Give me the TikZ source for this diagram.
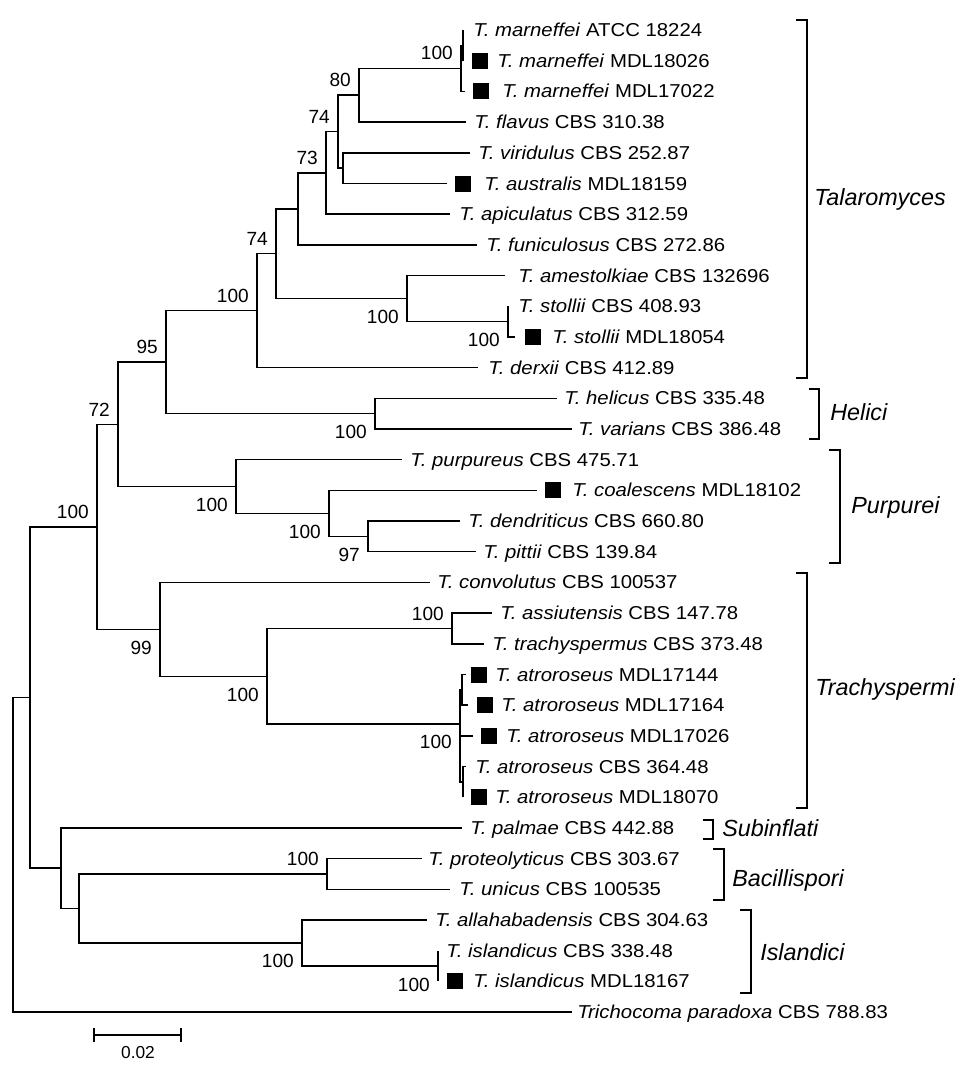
\documentclass[tikz,border=0pt]{standalone}
\usepackage{fontspec}
\setmainfont{Liberation Sans}
\newfontfamily\leaffamily[FakeStretch=1.09]{Liberation Sans}
\usepackage{tikz}
\usetikzlibrary{positioning}
\newcommand{\taxon}[2]{\textit{#1} #2}
\tikzset{
  branch/.style={line width=1.1pt},
  leaf/.style={anchor=base west, inner sep=0pt, yshift=-4.9pt,
    font=\leaffamily\fontsize{14}{17}\selectfont},
  isolate/.style={fill=black, minimum size=12pt, inner sep=0pt},
  boot/.style={inner sep=0pt, font=\fontsize{14.3}{16}\selectfont},
  clade/.style={anchor=base west, inner sep=0pt, yshift=-6.3pt,
    font=\fontsize{17.5}{20}\selectfont\itshape},
}
\begin{document}
\begin{tikzpicture}[x=0.75pt, y=-0.75pt] % Tree

      \useasboundingbox (0,0) rectangle (975,1074);

      % tips of the branches
      \coordinate (t1) at (463,30.0);    \coordinate (t2) at (463,60.7);
      \coordinate (t3) at (465,91.4);    \coordinate (t4) at (466,122.1);
      \coordinate (t5) at (470,152.8);   \coordinate (t6) at (447,183.5);
      \coordinate (t7) at (450,214.1);   \coordinate (t8) at (477,244.8);
      \coordinate (t9) at (505,275.5);   \coordinate (t10) at (508,306.2);
      \coordinate (t11) at (515,336.9);  \coordinate (t12) at (478,367.6);
      \coordinate (t13) at (557,398.3);  \coordinate (t14) at (572,429.0);
      \coordinate (t15) at (402,459.7);  \coordinate (t16) at (537,490.4);
      \coordinate (t17) at (460,521.0);  \coordinate (t18) at (476,551.7);
      \coordinate (t19) at (430,582.4);  \coordinate (t20) at (492,613.1);
      \coordinate (t21) at (484,643.8);  \coordinate (t22) at (466,674.5);
      \coordinate (t23) at (468,705.2);  \coordinate (t24) at (473,735.9);
      \coordinate (t25) at (466,766.6);  \coordinate (t26) at (463,797.3);
      \coordinate (t27) at (462,827.9);  \coordinate (t28) at (422,858.6);
      \coordinate (t29) at (450,889.3);  \coordinate (t30) at (427,920.0);
      \coordinate (t31) at (438,950.7);  \coordinate (t32) at (438,981.4);
      \coordinate (t33) at (572,1012.1);

      % inner nodes
      \coordinate (nM) at (463,45.4);    \coordinate (nL) at (461,68.4);
      \coordinate (nK) at (359,95.2);    \coordinate (nJ) at (343,168.2);
      \coordinate (nI) at (338,131.7);   \coordinate (nH) at (326,172.9);
      \coordinate (nG) at (298,208.9);   \coordinate (nO) at (508,321.6);
      \coordinate (nN) at (407,298.5);   \coordinate (nF) at (276,253.7);
      \coordinate (nE) at (257,310.6);   \coordinate (nP) at (375,413.6);
      \coordinate (nD) at (166,362.1);   \coordinate (nS) at (368,536.4);
      \coordinate (nR) at (329,513.4);   \coordinate (nQ) at (236,486.5);
      \coordinate (nC) at (118,424.3);   \coordinate (nV) at (452,628.5);
      \coordinate (nWa) at (462,689.9);  \coordinate (nWb) at (463,782.0);
      \coordinate (nW) at (460,724.0);   \coordinate (nU) at (267,676.3);
      \coordinate (nT) at (160,629.3);   \coordinate (nB) at (97,526.8);
      \coordinate (nZ) at (327,874.0);   \coordinate (nAB) at (438,966.1);
      \coordinate (nAA) at (302,943.0);  \coordinate (nY) at (79,908.5);
      \coordinate (nX) at (61,868.2);    \coordinate (nA) at (30,697.5);
      \coordinate (root) at (13,854.8);

      \draw [branch] (nM) |- (t1);  \draw [branch] (nM) |- (t2);
      \draw [branch] (nL) |- (nM);  \draw [branch] (nL) |- (t3);
      \draw [branch] (nK) |- (nL);  \draw [branch] (nK) |- (t4);
      \draw [branch] (nJ) |- (t5);  \draw [branch] (nJ) |- (t6);
      \draw [branch] (nI) |- (nK);  \draw [branch] (nI) |- (nJ);
      \draw [branch] (nH) |- (nI);  \draw [branch] (nH) |- (t7);
      \draw [branch] (nG) |- (nH);  \draw [branch] (nG) |- (t8);
      \draw [branch] (nO) |- (t10); \draw [branch] (nO) |- (t11);
      \draw [branch] (nN) |- (t9);  \draw [branch] (nN) |- (nO);
      \draw [branch] (nF) |- (nG);  \draw [branch] (nF) |- (nN);
      \draw [branch] (nE) |- (nF);  \draw [branch] (nE) |- (t12);
      \draw [branch] (nP) |- (t13); \draw [branch] (nP) |- (t14);
      \draw [branch] (nD) |- (nE);  \draw [branch] (nD) |- (nP);
      \draw [branch] (nS) |- (t17); \draw [branch] (nS) |- (t18);
      \draw [branch] (nR) |- (t16); \draw [branch] (nR) |- (nS);
      \draw [branch] (nQ) |- (t15); \draw [branch] (nQ) |- (nR);
      \draw [branch] (nC) |- (nD);  \draw [branch] (nC) |- (nQ);
      \draw [branch] (nV) |- (t20); \draw [branch] (nV) |- (t21);
      \draw [branch] (nWa) |- (t22); \draw [branch] (nWa) |- (t23);
      \draw [branch] (nWb) |- (t25); \draw [branch] (nWb) |- (t26);
      \draw [branch] (nW) |- (nWa); \draw [branch] (nW) |- (t24);
      \draw [branch] (nW) |- (nWb);
      \draw [branch] (nU) |- (nV);  \draw [branch] (nU) |- (nW);
      \draw [branch] (nT) |- (t19); \draw [branch] (nT) |- (nU);
      \draw [branch] (nB) |- (nC);  \draw [branch] (nB) |- (nT);
      \draw [branch] (nZ) |- (t28); \draw [branch] (nZ) |- (t29);
      \draw [branch] (nAB) |- (t31); \draw [branch] (nAB) |- (t32);
      \draw [branch] (nAA) |- (t30); \draw [branch] (nAA) |- (nAB);
      \draw [branch] (nY) |- (nZ);  \draw [branch] (nY) |- (nAA);
      \draw [branch] (nX) |- (t27); \draw [branch] (nX) |- (nY);
      \draw [branch] (nA) |- (nB);  \draw [branch] (nA) |- (nX);
      \draw [branch] (root) |- (nA); \draw [branch] (root) |- (t33);

      % strains
      \node [leaf] (l1) at (473,30.0) {\taxon{T. marneffei}{ATCC 18224}};
      \node [leaf] (l2) at (497,60.7) {\taxon{T. marneffei}{MDL18026}};
      \node [leaf] (l3) at (502,91.4) {\taxon{T. marneffei}{MDL17022}};
      \node [leaf] (l4) at (474,122.1) {\taxon{T. flavus}{CBS 310.38}};
      \node [leaf] (l5) at (478,152.8) {\taxon{T. viridulus}{CBS 252.87}};
      \node [leaf] (l6) at (484,183.5) {\taxon{T. australis}{MDL18159}};
      \node [leaf] (l7) at (459,214.1) {\taxon{T. apiculatus}{CBS 312.59}};
      \node [leaf] (l8) at (486,244.8) {\taxon{T. funiculosus}{CBS 272.86}};
      \node [leaf] (l9) at (518,275.5) {\taxon{T. amestolkiae}{CBS 132696}};
      \node [leaf] (l10) at (518,306.2) {\taxon{T. stollii}{CBS 408.93}};
      \node [leaf] (l11) at (552,336.9) {\taxon{T. stollii}{MDL18054}};
      \node [leaf] (l12) at (488,367.6) {\taxon{T. derxii}{CBS 412.89}};
      \node [leaf] (l13) at (564,398.3) {\taxon{T. helicus}{CBS 335.48}};
      \node [leaf] (l14) at (578,429.0) {\taxon{T. varians}{CBS 386.48}};
      \node [leaf] (l15) at (410,459.7) {\taxon{T. purpureus}{CBS 475.71}};
      \node [leaf] (l16) at (572,490.4) {\taxon{T. coalescens}{MDL18102}};
      \node [leaf] (l17) at (468,521.0) {\taxon{T. dendriticus}{CBS 660.80}};
      \node [leaf] (l18) at (483,551.7) {\taxon{T. pittii}{CBS 139.84}};
      \node [leaf] (l19) at (437,582.4) {\taxon{T. convolutus}{CBS 100537}};
      \node [leaf] (l20) at (500,613.1) {\taxon{T. assiutensis}{CBS 147.78}};
      \node [leaf] (l21) at (492,643.8) {\taxon{T. trachyspermus}{CBS 373.48}};
      \node [leaf] (l22) at (495,674.5) {\taxon{T. atroroseus}{MDL17144}};
      \node [leaf] (l23) at (501,705.2) {\taxon{T. atroroseus}{MDL17164}};
      \node [leaf] (l24) at (506,735.9) {\taxon{T. atroroseus}{MDL17026}};
      \node [leaf] (l25) at (475,766.6) {\taxon{T. atroroseus}{CBS 364.48}};
      \node [leaf] (l26) at (495,797.3) {\taxon{T. atroroseus}{MDL18070}};
      \node [leaf] (l27) at (470,827.9) {\taxon{T. palmae}{CBS 442.88}};
      \node [leaf] (l28) at (428,858.6) {\taxon{T. proteolyticus}{CBS 303.67}};
      \node [leaf] (l29) at (459,889.3) {\taxon{T. unicus}{CBS 100535}};
      \node [leaf] (l30) at (435,920.0) {\taxon{T. allahabadensis}{CBS 304.63}};
      \node [leaf] (l31) at (446,950.7) {\taxon{T. islandicus}{CBS 338.48}};
      \node [leaf] (l32) at (473,981.4) {\taxon{T. islandicus}{MDL18167}};
      \node [leaf] (l33) at (577,1012.1) {\taxon{Trichocoma paradoxa}{CBS 788.83}};

      % clinical isolates
      \node [isolate] (s2) at (480,60.7) {};
      \node [isolate] (s3) at (481,91.4) {};
      \node [isolate] (s6) at (463,183.5) {};
      \node [isolate] (s11) at (533,336.9) {};
      \node [isolate] (s16) at (553,490.4) {};
      \node [isolate] (s22) at (479,674.5) {};
      \node [isolate] (s23) at (485,705.2) {};
      \node [isolate] (s24) at (489,735.9) {};
      \node [isolate] (s26) at (479,797.3) {};
      \node [isolate] (s32) at (455,981.4) {};

      % bootstrap values
      \node [boot, above left=6pt and 6pt of nL] (bL) {100};
      \node [boot, above left=6pt and 6pt of nK] (bK) {80};
      \node [boot, above left=6pt and 6pt of nI] (bI) {74};
      \node [boot, above left=6pt and 6pt of nH] (bH) {73};
      \node [boot, above left=6pt and 6pt of nF] (bF) {74};
      \node [boot, above left=6pt and 6pt of nE] (bE) {100};
      \node [boot, above left=6pt and 6pt of nD] (bD) {95};
      \node [boot, above left=6pt and 6pt of nC] (bC) {72};
      \node [boot, above left=6pt and 6pt of nB] (bB) {100};
      \node [boot, above left=6pt and 6pt of nV] (bV) {100};
      \node [boot, above left=6pt and 6pt of nZ] (bZ) {100};
      \node [boot, below left=8.5pt and 6pt of nN] (bN) {100};
      \node [boot, below left=8.5pt and 6pt of nO] (bO) {100};
      \node [boot, below left=8.5pt and 6pt of nP] (bP) {100};
      \node [boot, below left=8.5pt and 6pt of nQ] (bQ) {100};
      \node [boot, below left=8.5pt and 6pt of nR] (bR) {100};
      \node [boot, below left=8.5pt and 6pt of nS] (bS) {97};
      \node [boot, below left=8.5pt and 6pt of nT] (bT) {99};
      \node [boot, below left=8.5pt and 6pt of nU] (bU) {100};
      \node [boot, below left=8.5pt and 6pt of nW] (bW) {100};
      \node [boot, below left=8.5pt and 6pt of nAA] (bAA) {100};
      \node [boot, below left=8.5pt and 6pt of nAB] (bAB) {100};

      % sections
      \draw [branch] (796,20) -| (807,378) -- (796,378);
      \node [clade] (talaro) at (814,197) {Talaromyces};
      \draw [branch] (809,389) -| (819,439) -- (809,439);
      \node [clade] (helici) at (830,412) {Helici};
      \draw [branch] (829,450) -| (840,563) -- (829,563);
      \node [clade] (purpu) at (851,505) {Purpurei};
      \draw [branch] (796,573) -| (807,808) -- (796,808);
      \node [clade] (trachy) at (815,687) {Trachyspermi};
      \draw [branch] (703,820) -| (713,839) -- (703,839);
      \node [clade] (subinf) at (722,828) {Subinflati};
      \draw [branch] (713,849) -| (724,900) -- (713,900);
      \node [clade] (bacil) at (732,878) {Bacillispori};
      \draw [branch] (740,910) -| (751,993) -- (740,993);
      \node [clade] (island) at (760,952) {Islandici};

      % scale
      \draw [branch] (94,1035) -- (181,1035);
      \draw [branch] (94,1028) -- (94,1042);
      \draw [branch] (181,1028) -- (181,1042);
      \node [font=\fontsize{13}{15}\selectfont] (scalelbl) at (138,1053) {0.02};

    \end{tikzpicture}
\end{document}
